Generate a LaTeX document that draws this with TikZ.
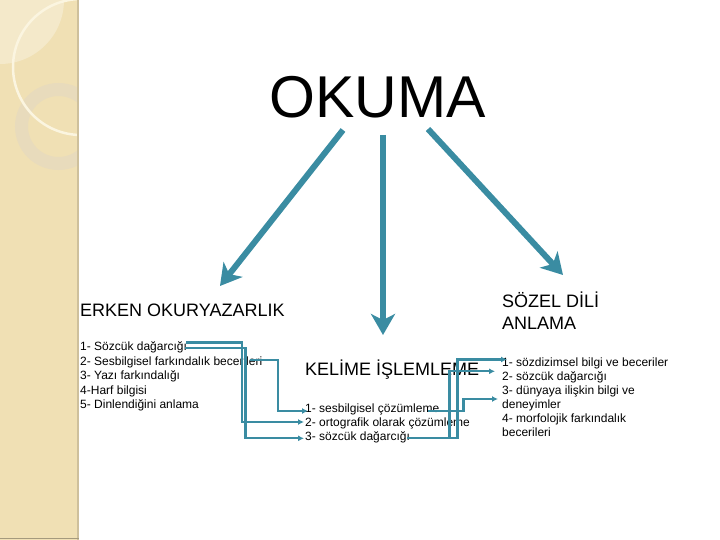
\documentclass[tikz,border=0pt]{standalone}
\usepackage{fontspec}
\setmainfont{Liberation Sans}
\usetikzlibrary{arrows.meta}
\definecolor{tealc}{RGB}{58,140,162}
\definecolor{stripc}{RGB}{240,224,180}
\definecolor{lightc}{RGB}{244,233,202}
\definecolor{ringc}{RGB}{232,219,188}
\definecolor{arcc}{RGB}{251,245,224}
\definecolor{borderc}{RGB}{206,192,156}
\begin{document}
\begin{tikzpicture}[x=1pt,y=-1pt,
  big/.style={line width=6pt, draw=tealc, -{Stealth[length=21pt,width=24pt,inset=6pt]}},
  conn/.style={line width=2.3pt, draw=tealc, -{Latex[length=6pt,width=6pt]}},
  txt/.style={anchor=base west, inner sep=0pt, font=\fontsize{12}{14}\selectfont},
  head/.style={anchor=base west, inner sep=0pt, font=\fontsize{18}{22}\selectfont}]
\useasboundingbox (0,0) rectangle (720,540);
% left decorative strip
\begin{scope}
  \clip (0,0) rectangle (77,540);
  \fill[stripc] (0,0) rectangle (77,540);
  \fill[lightc] (0,0) circle[radius=64];
  \draw[ringc, line width=13pt] (58.5,126.5) circle[radius=37];
  \draw[arcc, line width=2.5pt] (81,67) circle[radius=68];
\end{scope}
\draw[borderc, line width=2pt] (78,0) -- (78,540);
\draw[borderc!80!black, line width=1.5pt] (0,538.5) -- (79,538.5);
% title
\node[anchor=base west, inner sep=0pt, font=\fontsize{59}{70}\selectfont] (okuma) at (269,118) {OKUMA};
% headings
\node[head] (erken) at (80,316) {ERKEN OKURYAZARLIK};
\node[head] (kelime) at (305,375) {KELİME İŞLEMLEME};
\node[head] (sozel1) at (502,307) {SÖZEL DİLİ};
\node[head] (sozel2) at (502,329.5) {ANLAMA};
% left list
\node[txt] (l1) at (80,350) {1- Sözcük dağarcığı};
\node[txt] (l2) at (80,365) {2- Sesbilgisel farkındalık becerileri};
\node[txt] (l3) at (80,379.5) {3- Yazı farkındalığı};
\node[txt] (l4) at (80,394) {4-Harf bilgisi};
\node[txt] (l5) at (80,408.5) {5- Dinlendiğini anlama};
% middle list
\node[txt] (m1) at (305,412.7) {1- sesbilgisel çözümleme};
\node[txt] (m2) at (305,426.3) {2- ortografik olarak çözümleme};
\node[txt] (m3) at (305,440) {3- sözcük dağarcığı};
% right list
\node[txt] (r1) at (502,366) {1- sözdizimsel bilgi ve beceriler};
\node[txt] (r2) at (502,380) {2- sözcük dağarcığı};
\node[txt] (r3) at (502,394.2) {3- dünyaya ilişkin bilgi ve};
\node[txt] (r3b) at (502,408.4) {deneyimler};
\node[txt] (r4) at (502,422.6) {4- morfolojik farkındalık};
\node[txt] (r4b) at (502,436.8) {becerileri};
% big arrows
\coordinate (oL) at (343,130);
\coordinate (oM) at (383,135);
\coordinate (oR) at (428,129);
\coordinate (tL) at (220,286);
\coordinate (tM) at (383,335);
\coordinate (tR) at (563,275);
\draw[big] (oL) -- (tL);
\draw[big] (oM) -- (tM);
\draw[big] (oR) -- (tR);
% connectors left -> middle
\coordinate (s1a) at (186,342.5);
\coordinate (s1b) at (185,348.3);
\coordinate (s2) at (250,359.8);
\coordinate (e1) at (308,411);
\coordinate (e2) at (304,422);
\coordinate (e3) at (304,438.3);
\draw[conn] (s1a) -- (242,342.5) |- (e2);
\draw[conn] (s1b) -- (245.5,348.3) |- (e3);
\draw[conn] (s2) -- (278,359.8) |- (e1);
% connectors middle -> right
\coordinate (t1) at (428,411);
\coordinate (t3) at (407,438.3);
\coordinate (f1) at (507,359.5);
\coordinate (f2) at (495,371.3);
\coordinate (f3) at (498,399);
\draw[conn] (t1) -- (463.5,411) |- (f3);
\draw[conn] (t3) -- (449.5,438.3) |- (f2);
\draw[conn] (t3) -- (457.5,438.3) |- (f1);
\end{tikzpicture}
\end{document}
